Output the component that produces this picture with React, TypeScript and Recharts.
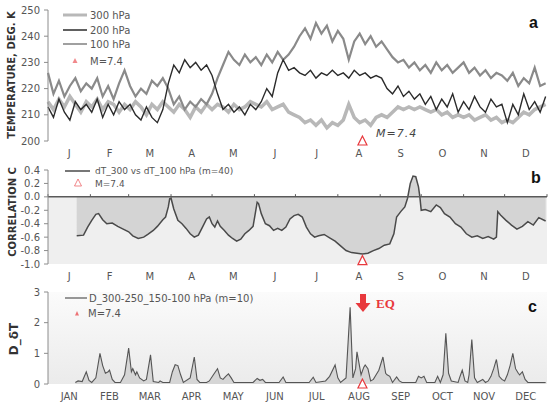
import React from 'react'
import { ComposedChart, Line, Area, Scatter, XAxis, YAxis, ReferenceLine, ReferenceArea } from 'recharts'

const W = 552
const H = 407
const FONT = '"DejaVu Sans", Verdana, sans-serif'
const RED = '#e8393d'

// day-of-year calendar
const monthEdges = [0, 31, 59, 90, 120, 151, 181, 212, 243, 273, 304, 334, 365]
const monthShort = ['J', 'F', 'M', 'A', 'M', 'J', 'J', 'A', 'S', 'O', 'N', 'D']
const monthLong = ['JAN', 'FEB', 'MAR', 'APR', 'MAY', 'JUN', 'JUL', 'AUG', 'SEP', 'OCT', 'NOV', 'DEC']
const monthMids = monthEdges.slice(0, 12).map((d, i) => (d + monthEdges[i + 1]) / 2)

const eqDay = 230 // M=7.4

// panel a: temperature (K), one reading every 4 days from Jan 1
const tempStep = 4
const temp300 = [
  215, 212, 216, 213, 217, 214, 211, 215,
  213, 216, 212, 215, 214, 211, 214,
  212, 215, 213, 210, 214, 212, 215, 213,
  211, 214, 212, 209, 213, 211, 214,
  212, 214, 213, 211, 214, 212, 213, 215,
  214, 213, 215, 212, 213, 214, 211, 210,
  209, 207, 208, 206, 208, 205, 207,
  206, 208, 214, 209, 207, 208, 206, 209,
  210, 209, 211, 213, 212, 213, 212, 213,
  212, 211, 212, 210, 211, 209, 210,
  209, 210, 208, 209, 210, 208, 209, 207,
  208, 207, 209, 211, 210, 212, 213, 214,
]
const temp200 = [
  213, 209, 216, 211, 208, 215, 212, 214,
  211, 216, 209, 214, 210, 215, 212,
  214, 210, 208, 213, 209, 207, 212, 222,
  229, 226, 231, 228, 230, 227, 229,
  225, 218, 212, 214, 211, 213, 210, 214,
  212, 215, 220, 217, 226, 231, 227, 228,
  226, 225, 227, 224, 226, 225, 227,
  225, 226, 224, 227, 225, 226, 224, 225,
  224, 220, 218, 221, 217, 219, 216, 218,
  214, 217, 212, 216, 213, 218, 211,
  215, 212, 217, 213, 211, 216, 213, 214,
  207, 214, 210, 218, 212, 215, 211, 217,
]
const temp100 = [
  226, 218, 223, 217, 221, 224, 219, 222,
  220, 224, 217, 221, 216, 222, 227,
  221, 217, 220, 218, 223, 221, 224, 220,
  214, 217, 212, 215, 213, 216, 214,
  218, 224, 229, 234, 231, 229, 233, 230,
  232, 229, 233, 230, 234, 231, 233, 236,
  240, 243, 239, 245, 241, 244, 238,
  242, 239, 231, 238, 241, 237, 240, 236,
  238, 235, 232, 230, 231, 228, 230, 227,
  229, 226, 230, 227, 229, 226, 228,
  230, 226, 228, 225, 227, 224, 226, 225,
  223, 226, 221, 224, 222, 228, 221, 222,
]

// panel b: running correlation dT_300 vs dT_100 (m=40)
const corrDays = [
  21, 26, 29, 32, 35, 37, 40, 43, 47, 51,
  55, 59, 62, 66, 70, 73, 77, 80, 84, 86,
  88, 89, 90, 92, 95, 98, 101, 104, 107, 110,
  113, 116, 118, 120, 122, 124, 126, 129, 132, 135,
  138, 141, 144, 147, 150, 152, 153, 154, 156, 159,
  162, 165, 168, 171, 174, 177, 180, 183, 186, 189,
  192, 195, 198, 202, 206, 210, 214, 218, 222, 226,
  230, 234, 238, 242, 246, 250, 253, 255, 258, 261,
  263, 265, 267, 269, 271, 272, 273, 276, 280, 284,
  287, 290, 294, 298, 302, 306, 310, 314, 318, 322,
  326, 328, 329, 331, 335, 339, 343, 347, 351, 355,
  359, 364,
]
const corrValues = [
  -0.58, -0.57, -0.45, -0.35, -0.26, -0.25, -0.34, -0.4, -0.39, -0.44,
  -0.48, -0.52, -0.58, -0.62, -0.6, -0.56, -0.5, -0.44, -0.34, -0.3,
  -0.15, -0.03, -0.02, -0.18, -0.35, -0.4, -0.47, -0.55, -0.6, -0.57,
  -0.45, -0.33, -0.3, -0.4, -0.45, -0.36, -0.44, -0.5, -0.57, -0.62,
  -0.66, -0.63, -0.55, -0.5, -0.44, -0.2, -0.08, -0.1, -0.25, -0.4,
  -0.43, -0.5, -0.47, -0.5, -0.45, -0.33, -0.28, -0.26, -0.3, -0.45,
  -0.55, -0.6, -0.58, -0.56, -0.61, -0.66, -0.73, -0.8, -0.83, -0.84,
  -0.85, -0.84, -0.8, -0.77, -0.72, -0.7, -0.55, -0.3, -0.22, -0.15,
  -0.02, 0.2, 0.31, 0.3, 0.15, 0.0, -0.2, -0.19, -0.22, -0.12,
  -0.16, -0.25, -0.3, -0.4, -0.45, -0.55, -0.6, -0.58, -0.62, -0.59,
  -0.63, -0.6, -0.22, -0.27, -0.35, -0.42, -0.48, -0.44, -0.37, -0.42,
  -0.31, -0.36,
]

// panel c: D_300-250_150-100 hPa (m=10)
const dDays = [
  20, 22, 25, 28, 30, 32, 35, 38, 40, 42,
  44, 45, 47, 49, 53, 56, 59, 61, 62, 64,
  65, 67, 70, 72, 75, 77, 81, 82, 84, 89,
  91, 93, 95, 97, 99, 104, 107, 109, 111, 116,
  118, 121, 124, 126, 128, 130, 132, 134, 136, 150,
  153, 155, 157, 159, 169, 172, 174, 191, 194, 196,
  203, 206, 210, 212, 214, 218, 221, 223, 225, 226,
  228, 229, 231, 232, 234, 236, 238, 240, 242, 245,
  247, 248, 250, 252, 255, 257, 259, 269, 271, 273,
  275, 277, 283, 285, 287, 289, 291, 293, 295, 300,
  301, 303, 305, 307, 308, 310, 312, 314, 318, 320,
  322, 324, 326, 328, 330, 332, 334, 336, 338, 340,
  342, 344, 345, 347, 349, 351, 364,
]
const dValues = [
  0.05, 0.1, 0.08, 0.4, 0.12, 0.05, 0.2, 1.0, 0.6, 0.35,
  0.4, 0.45, 0.15, 0.05, 0.05, 0.3, 1.17, 0.4, 0.5, 0.3,
  0.4, 0.2, 0.1, 0.15, 0.95, 0.08, 0.05, 0.1, 0.05, 0.05,
  0.4, 0.63, 0.6, 0.3, 0.05, 0.2, 0.88, 0.15, 0.05, 0.05,
  0.1, 0.3, 0.5, 0.2, 0.15, 0.25, 0.33, 0.2, 0.05, 0.05,
  0.18, 0.12, 0.15, 0.05, 0.05, 0.23, 0.05, 0.05, 0.22, 0.05,
  0.1, 0.25, 0.62, 0.2, 0.05, 0.2, 2.5, 0.2, 0.5, 1.05,
  0.55, 0.3, 0.55, 0.62, 0.5, 0.1, 0.15, 0.3, 0.45, 0.88,
  0.35, 0.3, 0.25, 0.05, 0.23, 0.1, 0.05, 0.05, 0.25, 0.2,
  0.25, 0.05, 0.05, 0.25, 0.05, 0.3, 1.65, 0.35, 0.1, 0.05,
  0.2, 0.45, 0.1, 0.05, 0.3, 1.45, 0.2, 0.05, 0.15, 0.05,
  0.1, 0.25, 0.5, 0.8, 0.25, 0.15, 0.1, 0.3, 0.6, 1.0,
  0.5, 0.35, 0.3, 0.4, 0.15, 0.05, 0.05,
]

const tempData = temp300.map((v, i) => ({ day: i * tempStep, t300: v, t200: temp200[i], t100: temp100[i] }))
const corrData = corrDays.map((d, i) => ({ day: d, r: corrValues[i] }))
const dData = dDays.map((d, i) => ({ day: d, v: dValues[i] }))

const tickStyle = { fill: '#555', fontSize: 10, fontFamily: FONT }
const axisGray = '#8c8c8c'

function EqMark(props: any) {
  const { cx, cy } = props
  if (cx == null || cy == null) return null
  return (
    <polygon
      points={`${cx},${cy - 5} ${cx - 4.5},${cy + 4} ${cx + 4.5},${cy + 4}`}
      fill="#fff"
      stroke={RED}
      strokeWidth={1.2}
    />
  )
}

const layer: React.CSSProperties = { position: 'absolute', left: 0, top: 0 }

export default function App() {
  return (
    <div style={{ position: 'absolute', left: 0, top: 0, width: W, height: H, background: '#fff', overflow: 'hidden' }}>
      {/* a: temperatures */}
      <div style={layer}>
        <ComposedChart width={W} height={H} data={tempData} margin={{ top: 10, right: 5, bottom: 246, left: 0 }}>
          <XAxis xAxisId="edge" dataKey="day" type="number" domain={[0, 365]} ticks={monthEdges} tick={false}
            height={0} tickSize={4} stroke={axisGray} />
          <XAxis xAxisId="lab" dataKey="day" type="number" domain={[0, 365]} ticks={monthMids} interval={0}
            tickFormatter={(v) => monthShort[monthMids.indexOf(v)]} axisLine={false} tickLine={false}
            height={20} tickMargin={3} tick={tickStyle} />
          <YAxis domain={[200, 250]} ticks={[200, 210, 220, 230, 240, 250]} interval={0} width={48} tickSize={4}
            tickMargin={4} tick={tickStyle} stroke={axisGray} />
          <Line xAxisId="lab" dataKey="t300" stroke="#b8b8b8" strokeWidth={3.5} dot={false} isAnimationActive={false} />
          <Line xAxisId="lab" dataKey="t100" stroke="#8a8a8a" strokeWidth={2.2} dot={false} isAnimationActive={false} />
          <Line xAxisId="lab" dataKey="t200" stroke="#2b2b2b" strokeWidth={1.4} dot={false} isAnimationActive={false} />
          <Scatter xAxisId="lab" data={[{ day: eqDay, value: 200 }]} dataKey="value" shape={EqMark} isAnimationActive={false} />
        </ComposedChart>
      </div>

      {/* b: correlation */}
      <div style={layer}>
        <ComposedChart width={W} height={H} data={corrData} margin={{ top: 170, right: 5, bottom: 123, left: 0 }}>
          <XAxis dataKey="day" type="number" domain={[0, 365]} ticks={monthMids} interval={0}
            tickFormatter={(v) => monthShort[monthMids.indexOf(v)]} axisLine={false} tickLine={false}
            height={20} tickMargin={3} tick={tickStyle} />
          <YAxis domain={[-1, 0.4]} ticks={[-1, -0.8, -0.6, -0.4, -0.2, 0, 0.2, 0.4]} interval={0} width={48}
            tickSize={4} tickMargin={4} tick={tickStyle} stroke={axisGray}
            tickFormatter={(v) => Number(v).toFixed(1)} />
          <ReferenceArea y1={-1} y2={0} fill="#efefef" fillOpacity={1} stroke="none" />
          <Area dataKey="r" baseValue={0} type="linear" fill="#d4d4d4" fillOpacity={1} stroke="#4a4a4a"
            strokeWidth={1.5} dot={false} isAnimationActive={false} />
          <ReferenceLine y={0} stroke="#5a5a5a" strokeWidth={1.5} />
          {monthEdges.map((d) => (
            <ReferenceLine key={d} segment={[{ x: d, y: 0 }, { x: d, y: 0.04 }]} stroke="#5a5a5a" />
          ))}
          <Scatter data={[{ day: eqDay, value: -0.95 }]} dataKey="value" shape={EqMark} isAnimationActive={false} />
        </ComposedChart>
      </div>

      {/* c: D index */}
      <div style={layer}>
        <ComposedChart width={W} height={H} data={dData} margin={{ top: 292, right: 5, bottom: 3, left: 0 }}>
          <defs>
            <linearGradient id="bgC" x1="0" y1="0" x2="0" y2="1">
              <stop offset="0%" stopColor="#fbfbfb" />
              <stop offset="100%" stopColor="#ebebeb" />
            </linearGradient>
          </defs>
          <XAxis xAxisId="edge" dataKey="day" type="number" domain={[0, 365]} ticks={monthEdges} tick={false}
            height={0} tickSize={4} stroke={axisGray} />
          <XAxis xAxisId="lab" dataKey="day" type="number" domain={[0, 365]} ticks={monthMids} interval={0}
            tickFormatter={(v) => monthLong[monthMids.indexOf(v)]} axisLine={false} tickLine={false}
            height={20} tickMargin={3} tick={tickStyle} />
          <YAxis domain={[0, 3]} ticks={[0, 1, 2, 3]} interval={0} width={48} tickSize={4} tickMargin={4}
            tick={tickStyle} stroke={axisGray} />
          <ReferenceArea xAxisId="lab" y1={0} y2={3} fill="url(#bgC)" fillOpacity={1} stroke="none" />
          <Area xAxisId="lab" dataKey="v" type="linear" fill="#d6d6d6" fillOpacity={1} stroke="#555"
            strokeWidth={1.1} dot={false} isAnimationActive={false} />
          <Scatter xAxisId="lab" data={[{ day: eqDay, value: 0 }]} dataKey="value" shape={EqMark} isAnimationActive={false} />
        </ComposedChart>
      </div>

      {/* titles, legends, annotations */}
      <svg width={W} height={H} style={{ ...layer, pointerEvents: 'none' }} fontFamily={FONT}>
        <text transform="translate(11,75) rotate(-90)" textAnchor="middle" dominantBaseline="central"
          fontSize={10} fontWeight="bold" fill="#333">TEMPERATURE,  DEG. K</text>
        <text transform="translate(12,212) rotate(-90)" textAnchor="middle" dominantBaseline="central"
          fontSize={10} fontWeight="bold" fill="#333">CORRELATION  C</text>
        <text transform="translate(14,339) rotate(-90)" textAnchor="middle" dominantBaseline="central"
          fontSize={12} fontWeight="bold" fill="#333">D_δT</text>

        {/* legend a */}
        <line x1={63} x2={87} y1={15} y2={15} stroke="#b8b8b8" strokeWidth={3} />
        <text x={90} y={18.5} fontSize={10} fill="#555">300 hPa</text>
        <line x1={63} x2={87} y1={30} y2={30} stroke="#2b2b2b" strokeWidth={1.5} />
        <text x={90} y={33.5} fontSize={10} fill="#555">200 hPa</text>
        <line x1={63} x2={87} y1={44} y2={44} stroke="#a0a0a0" strokeWidth={2} />
        <text x={90} y={47.5} fontSize={10} fill="#555">100 hPa</text>
        <polygon points="75,58 72.5,63 77.5,63" fill={RED} opacity={0.6} />
        <text x={90} y={64.5} fontSize={10} fill="#555">M=7.4</text>
        <text x={376} y={136.5} fontSize={11} fontStyle="italic" fill="#444" letterSpacing={1}>M=7.4</text>
        <text x={529} y={28} fontSize={16} fontWeight="bold" fill="#111" fontFamily="'Liberation Sans', Arial, sans-serif">a</text>

        {/* legend b */}
        <line x1={65} x2={90} y1={171} y2={171} stroke="#4a4a4a" strokeWidth={1.5} />
        <text x={95} y={174} fontSize={9} fill="#555">dT_300 vs dT_100 hPa (m=40)</text>
        <polygon points="78,179 74.5,186 81.5,186" fill="#fff" stroke={RED} strokeOpacity={0.6} strokeWidth={1} />
        <text x={95} y={186.5} fontSize={9} fill="#555">M=7.4</text>
        <text x={531} y={183} fontSize={16} fontWeight="bold" fill="#111" fontFamily="'Liberation Sans', Arial, sans-serif">b</text>

        {/* legend c */}
        <line x1={65} x2={87} y1={298} y2={298} stroke="#555" strokeWidth={1.2} />
        <text x={89} y={301.5} fontSize={10} fill="#555">D_300-250_150-100 hPa (m=10)</text>
        <polygon points="77,311 75,315.5 79,315.5" fill={RED} opacity={0.7} />
        <text x={88} y={317} fontSize={10} fill="#555">M=7.4</text>
        <text x={528} y={312} fontSize={16} fontWeight="bold" fill="#111" fontFamily="'Liberation Sans', Arial, sans-serif">c</text>

        {/* EQ arrow */}
        <rect x={360} y={294} width={6} height={10} fill={RED} />
        <polygon points="355.5,303 370.5,303 363,312" fill={RED} />
        <text x={376} y={308} fontSize={13} fontWeight="bold" fill={RED} fontFamily="'Liberation Serif', 'DejaVu Serif', serif">EQ</text>
      </svg>
    </div>
  )
}
